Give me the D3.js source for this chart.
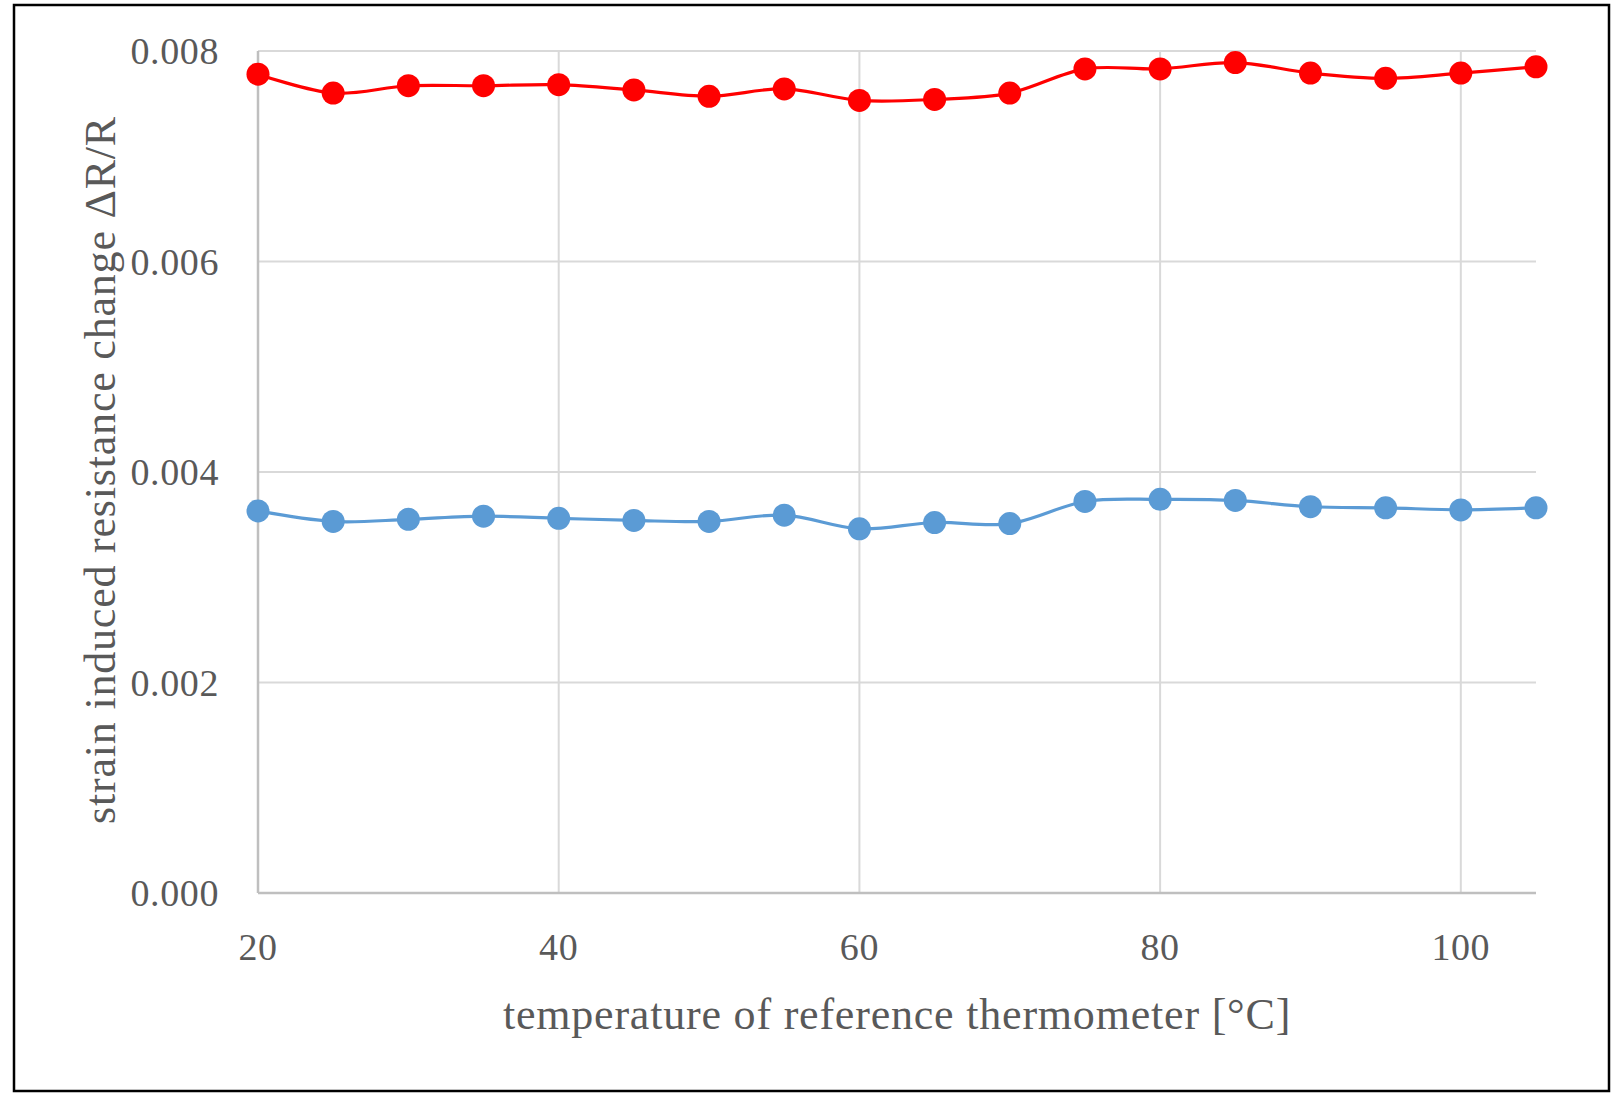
<!DOCTYPE html>
<html>
<head>
<meta charset="utf-8">
<script src="https://cdn.jsdelivr.net/npm/d3@7"></script>
<style>
  html, body { margin: 0; padding: 0; background: #fff; }
  svg { display: block; }
  text { font-family: "Liberation Serif", "DejaVu Serif", serif; fill: #595959; }
</style>
</head>
<body>
<svg id="chart" width="1618" height="1104"></svg>
<script>
// ---- data ----
const temperatures = [20, 25, 30, 35, 40, 45, 50, 55, 60, 65, 70, 75, 80, 85, 90, 95, 100, 105];
const redSeries = [0.00778, 0.00760, 0.00767, 0.00767, 0.00768, 0.00763, 0.00757, 0.00764, 0.00753, 0.00754, 0.00760, 0.00783, 0.00783, 0.00789, 0.00779, 0.00774, 0.00779, 0.00785];
const blueSeries = [0.00363, 0.00353, 0.00355, 0.00358, 0.00356, 0.00354, 0.00353, 0.00359, 0.00346, 0.00352, 0.00351, 0.00372, 0.00374, 0.00373, 0.00367, 0.00366, 0.00364, 0.00366];
const xTicks = [20, 40, 60, 80, 100];
const yTicks = [0, 0.002, 0.004, 0.006, 0.008];
const xTitle = "temperature of reference thermometer [°C]";
const yTitle = "strain induced resistance change ΔR/R";

// ---- layout ----
const svg = d3.select("#chart");
const L = 258, R = 1536, T = 51, B = 893;
const x = d3.scaleLinear().domain([20, 105]).range([L, R]);
const y = d3.scaleLinear().domain([0, 0.008]).range([B, T]);

// outer frame
svg.append("rect").attr("x", 14).attr("y", 5).attr("width", 1595).attr("height", 1086)
  .attr("fill", "#fff").attr("stroke", "#000").attr("stroke-width", 2.5);

// horizontal gridlines
svg.append("g").selectAll("line").data(yTicks.filter(d => d > 0)).join("line")
  .attr("x1", L).attr("x2", R).attr("y1", d => y(d)).attr("y2", d => y(d))
  .attr("stroke", "#d9d9d9").attr("stroke-width", 2);
// vertical gridlines
svg.append("g").selectAll("line").data(xTicks.filter(d => d > 20)).join("line")
  .attr("x1", d => x(d)).attr("x2", d => x(d)).attr("y1", T).attr("y2", B)
  .attr("stroke", "#d9d9d9").attr("stroke-width", 2);

// axes lines
svg.append("line").attr("x1", L).attr("x2", L).attr("y1", T).attr("y2", B)
  .attr("stroke", "#bfbfbf").attr("stroke-width", 2.5);
svg.append("line").attr("x1", L).attr("x2", R).attr("y1", B).attr("y2", B)
  .attr("stroke", "#bfbfbf").attr("stroke-width", 2.5);

// tick labels
const fmt = d3.format(".3f");
svg.append("g").selectAll("text").data(yTicks).join("text")
  .attr("x", 219).attr("y", d => y(d)).attr("dy", "0.35em")
  .attr("text-anchor", "end").style("font-size", "38px").style("letter-spacing", "0.6px").text(d => fmt(d));
svg.append("g").selectAll("text").data(xTicks).join("text")
  .attr("x", d => x(d)).attr("y", 947).attr("dy", "0.35em")
  .attr("text-anchor", "middle").style("font-size", "38px").style("letter-spacing", "0.6px").text(d => d);

// axis titles
svg.append("text").attr("x", (L + R) / 2).attr("y", 1029).attr("text-anchor", "middle")
  .style("font-size", "44px").style("letter-spacing", "0.8px").text(xTitle);
svg.append("text").attr("transform", `translate(115,${(T + B) / 2 - 2}) rotate(-90)`)
  .attr("text-anchor", "middle").style("font-size", "44px").style("letter-spacing", "0.8px").text(yTitle);

// series
const line = d3.line().x(d => x(d[0])).y(d => y(d[1])).curve(d3.curveCatmullRom.alpha(0));
const series = [
  { values: blueSeries, color: "#5b9bd5" },
  { values: redSeries, color: "#ff0000" }
];
series.forEach(s => {
  const pts = temperatures.map((t, i) => [t, s.values[i]]);
  svg.append("path").datum(pts).attr("d", line).attr("fill", "none")
    .attr("stroke", s.color).attr("stroke-width", 3.2);
  svg.append("g").selectAll("circle").data(pts).join("circle")
    .attr("cx", d => x(d[0])).attr("cy", d => y(d[1])).attr("r", 11.5)
    .attr("fill", s.color);
});
</script>
</body>
</html>
